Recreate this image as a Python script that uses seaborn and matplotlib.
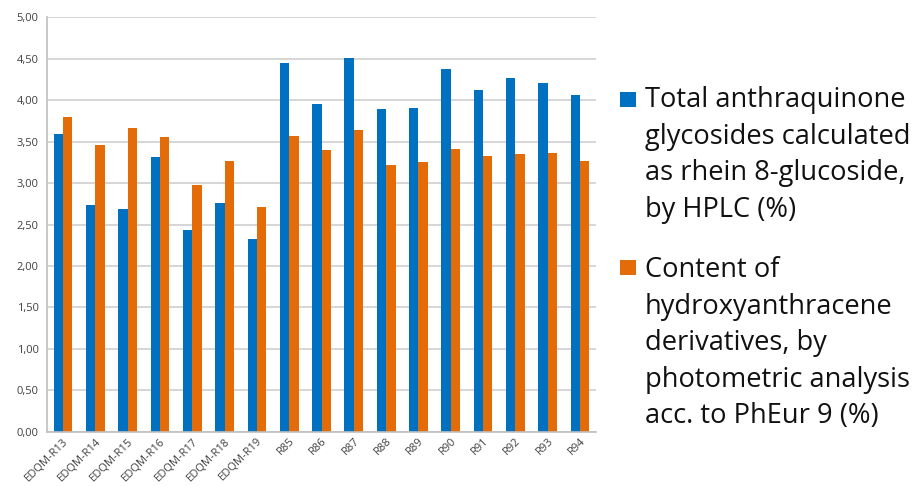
import pandas as pd
import seaborn as sns
import matplotlib.pyplot as plt
from matplotlib.ticker import FuncFormatter, MultipleLocator, FixedLocator
from matplotlib.patches import Rectangle

# Sample names
samples = ["EDQM-R13", "EDQM-R14", "EDQM-R15", "EDQM-R16", "EDQM-R17", "EDQM-R18", "EDQM-R19",
           "R85", "R86", "R87", "R88", "R89", "R90", "R91", "R92", "R93", "R94"]

# Total anthraquinone glycosides (HPLC)
hplc = [3.59, 2.73, 2.69, 3.31, 2.43, 2.76, 2.32,
        4.45, 3.95, 4.51, 3.89, 3.91, 4.38, 4.12, 4.27, 4.21, 4.07]

# Hydroxyanthracene derivatives (photometric, PhEur 9)
photometric = [3.80, 3.46, 3.66, 3.56, 2.98, 3.27, 2.71,
               3.57, 3.40, 3.64, 3.22, 3.25, 3.41, 3.33, 3.35, 3.36, 3.27]

series_names = [
    "Total anthraquinone\nglycosides calculated\nas rhein 8-glucoside,\nby HPLC (%)",
    "Content of\nhydroxyanthracene\nderivatives, by\nphotometric analysis\nacc. to PhEur 9 (%)",
]
colors = ["#0070C0", "#E36C09"]

df = pd.DataFrame({"sample": samples, series_names[0]: hplc, series_names[1]: photometric})
df = df.melt(id_vars="sample", var_name="series", value_name="value")

sns.set_style("white")
plt.rcParams["font.family"] = ["Open Sans", "DejaVu Sans"]

fig = plt.figure(figsize=(9.2, 4.86), dpi=100)
ax = fig.add_axes([0.051, 0.112, 0.597, 0.852])

sns.barplot(data=df, x="sample", y="value", hue="series", palette=colors,
            width=0.58, gap=0, ax=ax, legend=False, saturation=1, linewidth=0)

ax.set_ylim(0, 5)
ax.set_xlim(-0.5, len(samples) - 0.5)
ax.yaxis.set_major_locator(MultipleLocator(0.5))
ax.yaxis.set_major_formatter(FuncFormatter(lambda v, p: f"{v:.2f}".replace(".", ",")))
ax.grid(axis="y", color="#d0d0d0", linewidth=1.2)
ax.set_axisbelow(True)

for s in ["top", "right"]:
    ax.spines[s].set_visible(False)
for s in ["left", "bottom"]:
    ax.spines[s].set_color("#bfbfbf")
    ax.spines[s].set_linewidth(1.2)

ax.set_xlabel("")
ax.set_ylabel("")
ax.tick_params(axis="y", length=4, color="#bfbfbf", labelsize=8, labelcolor="#404040", pad=2)
ax.tick_params(axis="x", which="major", length=0, labelsize=8, labelcolor="#404040", pad=3)
ax.xaxis.set_minor_locator(FixedLocator([i - 0.5 for i in range(len(samples) + 1)]))
ax.tick_params(axis="x", which="minor", length=4, color="#bfbfbf", width=1.2)
plt.setp(ax.get_xticklabels(), rotation=45, ha="right", rotation_mode="anchor")

# Legend: square marker aligned with the first line of each label
W, H = fig.get_size_inches() * fig.dpi
legend_rows = [(106.7, 216.7, series_names[0], colors[0]),
               (275.0, 423.0, series_names[1], colors[1])]
for first_base, last_base, name, c in legend_rows:
    fig.patches.append(Rectangle((620 / W, 1 - first_base / H), 16 / W, 15 / H,
                                 transform=fig.transFigure, facecolor=c, edgecolor="none"))
    fig.text(645 / W, 1 - last_base / H, name, ha="left", va="baseline", fontsize=19.6,
             linespacing=1.40, color="#111111")

plt.savefig("out.png", dpi=100)
